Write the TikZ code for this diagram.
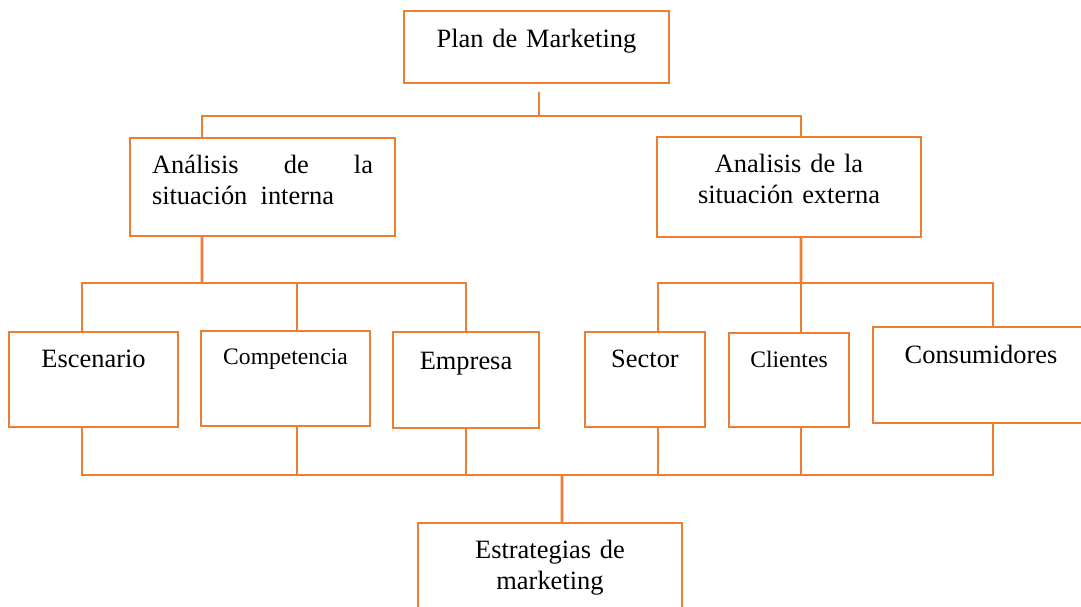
\documentclass[tikz,border=0pt]{standalone}
\usepackage{fontspec}
\setmainfont{Liberation Serif}
\usepackage{tikz}
\definecolor{boxorange}{RGB}{237,125,49}
\newcommand{\boxfont}{\fontsize{18.8}{22.05}\selectfont}
\newcommand{\boxfontsm}{\fontsize{16.8}{20}\selectfont}

\begin{document}
\begin{tikzpicture}[
    box/.style={draw=boxorange, line width=2pt, anchor=north west, inner sep=0pt, outer sep=0pt, align=center, font=\boxfont},
    bus/.style={draw=boxorange, line width=2pt},
  ]
    \useasboundingbox (0,0) rectangle (27.025,-15.15);

    % ---------- top levels ----------
    \node[box, text width=66.25mm, text height=9mm, text depth=9mm] (plan) at (10.1,-0.275) {Plan de Marketing};

    \node[box, align=justify, text width=55.25mm, inner xsep=5.5mm, text height=8.75mm, text depth=15.75mm] (anaI) at (3.25,-3.45)
      {Análisis de la\linebreak situación\ \ interna};
    \node[box, text width=66mm, text height=8.75mm, text depth=16.25mm] (anaE) at (16.425,-3.425)
      {Analisis de la\\situación externa};

    % ---------- factors ----------
    \node[box, text width=42.25mm, text height=8.75mm, text depth=15mm] (esc) at (0.225,-8.3) {Escenario};
    \node[box, font=\boxfontsm, text width=42.25mm, text height=8.25mm, text depth=15.5mm] (comp) at (5.025,-8.275) {Competencia};
    \node[box, text width=36.5mm, text height=9.25mm, text depth=14.75mm] (emp) at (9.825,-8.3) {Empresa};
    \node[box, text width=30mm, text height=8.75mm, text depth=15mm] (sec) at (14.625,-8.3) {Sector};
    \node[box, font=\boxfontsm, text width=30mm, text height=8.5mm, text depth=15mm] (cli) at (18.225,-8.325) {Clientes};
    \node[box, text width=54mm, text height=9mm, text depth=15mm] (cons) at (21.825,-8.175) {Consumidores};

    \node[box, text width=66mm, text height=8.75mm, text depth=16.25mm] (estr) at (10.45,-13.075)
      {Estrategias de\\marketing};

    % ---------- connectors ----------
    \coordinate (jTop)  at (13.475,-2.9);
    \coordinate (jMidL) at (5.05,-7.075);
    \coordinate (jMidR) at (20.025,-7.075);
    \coordinate (jBot)  at (14.05,-11.875);

    \draw[bus, shorten <=2.25mm] ([xshift=0.6mm]plan.south) -- ([xshift=0.6mm]plan.south |- jTop);
    \draw[bus] ([xshift=-15.125mm]anaI.north) |- (jTop) -| ([xshift=3mm]anaE.north);

    \draw[bus] ([xshift=-15.125mm]anaI.south) -- (jMidL);
    \draw[bus] ([xshift=-2.875mm]esc.north) |- (jMidL) -| (emp.north);
    \draw[bus] ([xshift=2.875mm]comp.north) -- ([xshift=2.875mm]comp.north |- jMidL);

    \draw[bus] ([xshift=3mm]anaE.south) -- (jMidR);
    \draw[bus] ([xshift=3.25mm]sec.north) |- (jMidR) -| ([xshift=3mm]cons.north);
    \draw[bus] ([xshift=3mm]cli.north) -- ([xshift=3mm]cli.north |- jMidR);

    \draw[bus] ([xshift=-2.875mm]esc.south) |- (jBot) -| ([xshift=3mm]cons.south);
    \foreach \n/\dx in {comp/2.875mm, emp/0mm, sec/3.25mm, cli/3mm}
      \draw[bus] ([xshift=\dx]\n.south) -- ([xshift=\dx]\n.south |- jBot);
    \draw[bus] (jBot) -- ([xshift=3mm]estr.north);
\end{tikzpicture}
\end{document}
